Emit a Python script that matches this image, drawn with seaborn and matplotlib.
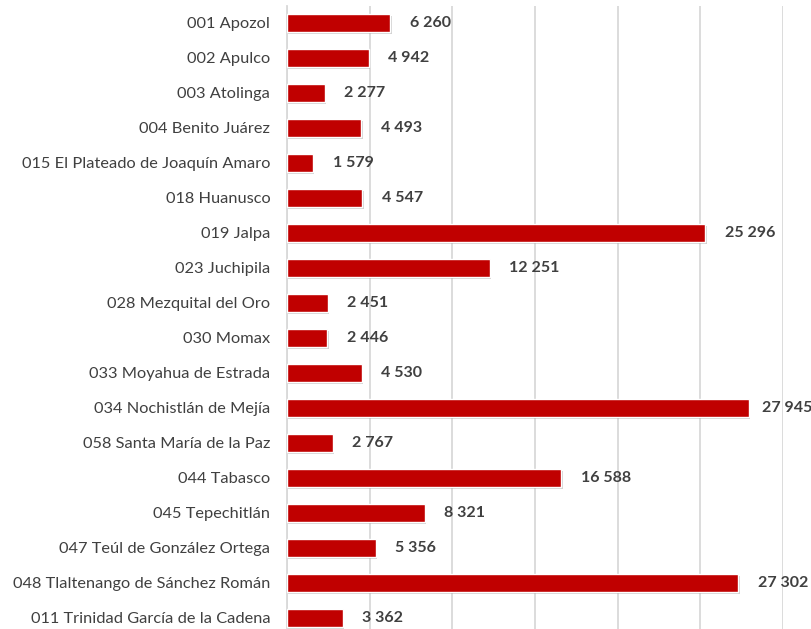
import pandas as pd
import seaborn as sns
import matplotlib.pyplot as plt
import matplotlib.patheffects as pe

# datos
municipios = ["001 Apozol", "002 Apulco", "003 Atolinga", "004 Benito Juárez",
              "015 El Plateado de Joaquín Amaro", "018 Huanusco", "019 Jalpa",
              "023 Juchipila", "028 Mezquital del Oro", "030 Momax",
              "033 Moyahua de Estrada", "034 Nochistlán de Mejía",
              "058 Santa María de la Paz", "044 Tabasco", "045 Tepechitlán",
              "047 Teúl de González Ortega", "048 Tlaltenango de Sánchez Román",
              "011 Trinidad García de la Cadena"]
poblacion = [6260, 4942, 2277, 4493, 1579, 4547, 25296, 12251, 2451, 2446,
             4530, 27945, 2767, 16588, 8321, 5356, 27302, 3362]

df = pd.DataFrame({"municipio": municipios, "poblacion": poblacion})

sns.set_style("white")
plt.rcParams['font.family'] = ['Lato', 'DejaVu Sans']

fig = plt.figure(figsize=(8.12, 6.29), dpi=100)
ax = fig.add_axes([287 / 812, 0.0, 496 / 812, 0.991])

sns.barplot(data=df, y="municipio", x="poblacion", orient="h", color="#C00000",
            saturation=1, width=0.51, ax=ax, zorder=3)

# sombra suave de las barras
for p in ax.patches:
    p.set_path_effects([pe.SimplePatchShadow(offset=(1, -1.5), shadow_rgbFace="#808080", alpha=0.35),
                        pe.Normal()])

# etiquetas de valor
for i, v in enumerate(poblacion):
    off = 9 if v > 27500 else 14  # la etiqueta más larga se acerca a la barra
    ax.annotate(f"{v:,}".replace(",", " "), (v, i), xytext=(off, 0), textcoords="offset points",
                va="center", ha="left", fontsize=11.5, fontweight="bold", color="#404040",
                annotation_clip=False)

ax.set_xlim(0, 30000)
ax.set_ylim(17.32, -0.49)
ax.set_xticks(range(0, 30001, 5000))
ax.set_xticklabels([])
ax.grid(axis="x", color="#D9D9D9", linewidth=1.3, zorder=0)
ax.set_xlabel("")
ax.set_ylabel("")
ax.tick_params(axis="y", length=0, labelsize=11.8, labelcolor="#404040", pad=12)
ax.tick_params(axis="x", length=0)
for s in ["top", "right", "bottom"]:
    ax.spines[s].set_visible(False)
ax.spines["left"].set_color("#D9D9D9")
ax.spines["left"].set_linewidth(1.3)

fig.savefig("out.png", dpi=100)
